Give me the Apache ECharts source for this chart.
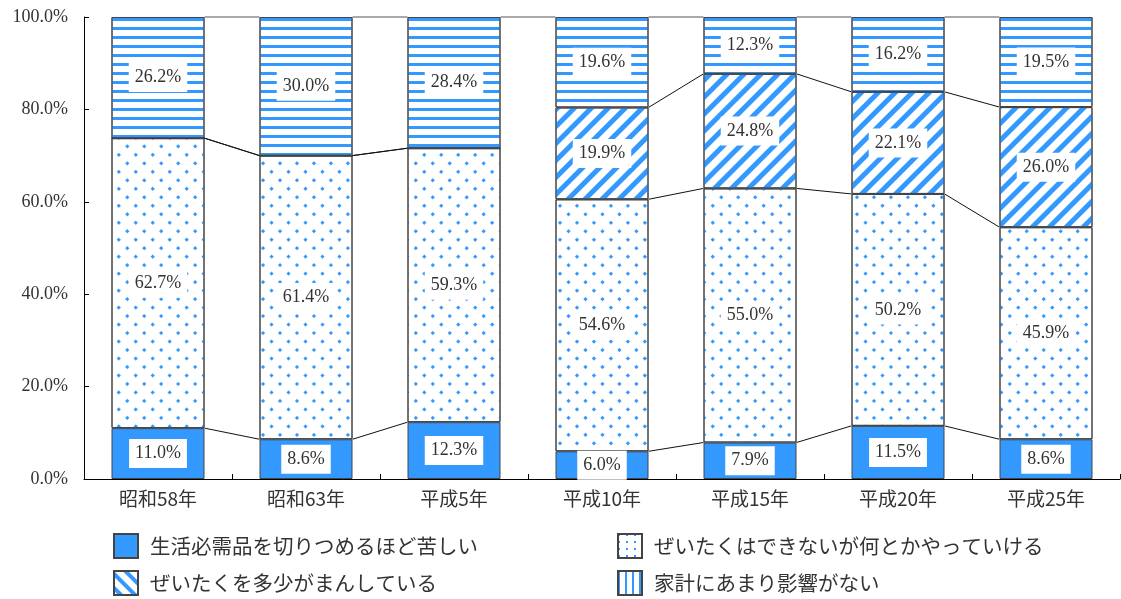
<!DOCTYPE html>
<html>
<head>
<meta charset="utf-8">
<script src="https://cdn.jsdelivr.net/npm/echarts@6/dist/echarts.min.js"></script>
<style>html,body{margin:0;padding:0;background:#fff}#c{width:1121px;height:599px}</style>
</head>
<body>
<div id="c"></div>
<script>
const categories = ['昭和58年','昭和63年','平成5年','平成10年','平成15年','平成20年','平成25年'];
const seriesNames = ['生活必需品を切りつめるほど苦しい','ぜいたくはできないが何とかやっていける','ぜいたくを多少がまんしている','家計にあまり影響がない'];
const hard = [11.0, 8.6, 12.3, 6.0, 7.9, 11.5, 8.6];
const noLuxury = [62.7, 61.4, 59.3, 54.6, 55.0, 50.2, 45.9];
const endure = [0, 0, 0, 19.9, 24.8, 22.1, 26.0];
const noEffect = [26.2, 30.0, 28.4, 19.6, 12.3, 16.2, 19.5];
const yTicks = [0, 20, 40, 60, 80, 100];
const gapAfter = 2; // no series lines between 平成5年 and 平成10年 (except top)

const BLUE = '#3399ff';
const NUMFONT = "'Liberation Serif', 'Noto Sans CJK JP', serif";
const JPFONT = "'Noto Sans CJK JP', sans-serif";
const BAR_W = 93;

const raw = [hard, noLuxury, endure, noEffect];
const totals = categories.map((c, i) => raw.reduce((s, a) => s + a[i], 0));
const norm = raw.map(a => a.map((v, i) => v / totals[i] * 100));
const cum = categories.map((c, i) => {
  let s = 0; return norm.map(a => (s += a[i]));
});

const decals = [
  null,
  { symbol: 'rect', color: BLUE, symbolSize: 1, dashArrayX: [2.4, 8.2], dashArrayY: [2.4, 8.2], rotation: Math.PI / 4 },
  { symbol: 'rect', color: BLUE, symbolSize: 1, dashArrayX: [1, 0], dashArrayY: [4.4, 6.2], rotation: -Math.PI / 4 },
  { symbol: 'rect', color: BLUE, symbolSize: 1, dashArrayX: [1, 0], dashArrayY: [2.5, 5.1], rotation: 0 }
];
const legendDecals = [
  null,
  { symbol: 'rect', color: BLUE, symbolSize: 1, dashArrayX: [2, 6], dashArrayY: [2, 5], rotation: 0 },
  { symbol: 'rect', color: BLUE, symbolSize: 1, dashArrayX: [1, 0], dashArrayY: [4, 6], rotation: Math.PI / 4 },
  { symbol: 'rect', color: BLUE, symbolSize: 1, dashArrayX: [2, 5], dashArrayY: [1, 0], rotation: 0 }
];

const barSeries = raw.map((arr, k) => ({
  name: seriesNames[k],
  type: 'bar',
  stack: 'total',
  barWidth: BAR_W,
  itemStyle: {
    color: k === 0 ? BLUE : '#ffffff',
    borderColor: '#444',
    borderWidth: 1,
    decal: decals[k] || undefined
  },
  label: {
    show: true,
    position: 'inside',
    backgroundColor: '#fff',
    padding: [6, 6, 5, 6],
    color: '#333',
    fontFamily: NUMFONT,
    fontSize: 18,
    formatter: p => arr[p.dataIndex].toFixed(1) + '%'
  },
  emphasis: { disabled: true },
  data: norm[k].map((v, i) => arr[i] === 0 ? { value: v, label: { show: false } } : v)
}));

const lineSeries = {
  type: 'custom',
  silent: true,
  z: 5,
  data: categories.slice(0, -1).map((c, i) => i),
  encode: { x: 0 },
  renderItem: (params, api) => {
    const i = params.dataIndex;
    const children = [];
    for (let k = 0; k < 4; k++) {
      if (i === gapAfter && k < 3) continue;
      const p1 = api.coord([i, cum[i][k]]);
      const p2 = api.coord([i + 1, cum[i + 1][k]]);
      children.push({
        type: 'line',
        shape: { x1: p1[0] + BAR_W / 2, y1: p1[1], x2: p2[0] - BAR_W / 2, y2: p2[1] },
        style: { stroke: k === 3 ? '#555' : '#111', lineWidth: 1 }
      });
    }
    return { type: 'group', children };
  }
};

const legendPos = [[113, 533], [617, 533], [113, 570], [617, 570]];
const legends = [0, 1, 2, 3].map(k => ({
  left: legendPos[k][0],
  top: legendPos[k][1],
  icon: 'rect',
  itemWidth: 24,
  itemHeight: 24,
  padding: 0,
  selectedMode: false,
  textStyle: { fontFamily: JPFONT, fontSize: 20.5, color: '#333', padding: [0, 0, 0, 7] },
  data: [{ name: seriesNames[k], itemStyle: legendDecals[k] ? { decal: legendDecals[k] } : {} }]
}));

const chart = echarts.init(document.getElementById('c'), null, { renderer: 'canvas' });
chart.setOption({
  animation: false,
  backgroundColor: '#fff',
  grid: { left: 84, right: 1, top: 17, bottom: 120, containLabel: false },
  xAxis: {
    type: 'category',
    data: categories,
    axisLine: { lineStyle: { color: '#000', width: 1 } },
    axisTick: { show: true, inside: true, length: 5, alignWithLabel: false, lineStyle: { color: '#000' } },
    axisLabel: { fontFamily: JPFONT, fontSize: 19, color: '#333', margin: 10 }
  },
  yAxis: {
    type: 'value',
    min: yTicks[0],
    max: yTicks[yTicks.length - 1],
    interval: yTicks[1] - yTicks[0],
    axisLine: { show: true, lineStyle: { color: '#000', width: 1 } },
    axisTick: { show: true, inside: true, length: 5, lineStyle: { color: '#000' } },
    splitLine: { show: false },
    axisLabel: { fontFamily: NUMFONT, fontSize: 18, color: '#333', margin: 16, formatter: v => v.toFixed(1) + '%' }
  },
  legend: legends,
  series: [...barSeries, lineSeries]
});
</script>
</body>
</html>
